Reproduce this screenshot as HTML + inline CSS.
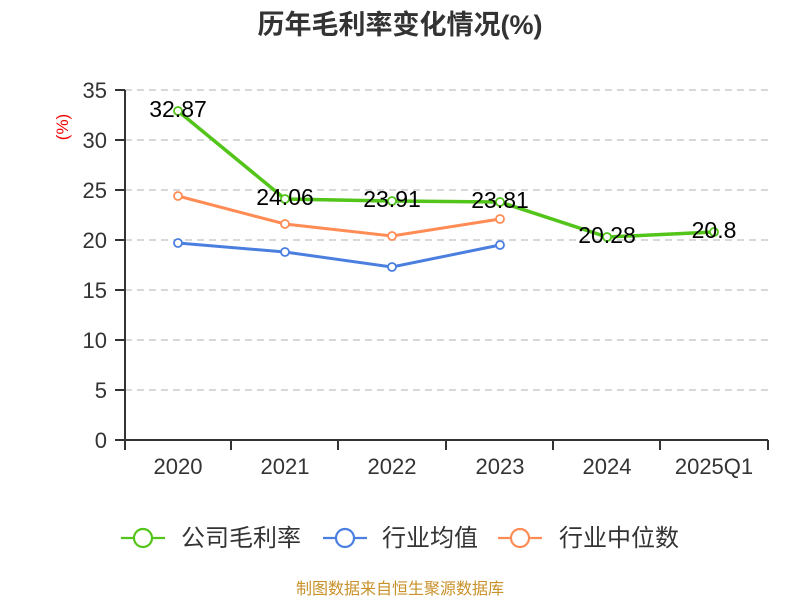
<!DOCTYPE html>
<html><head><meta charset="utf-8"><style>body{margin:0;background:#fff}svg{display:block}</style></head><body>
<svg width="800" height="600" xmlns="http://www.w3.org/2000/svg" font-family="Liberation Sans, Noto Sans CJK SC, sans-serif">
<text x="400" y="34" text-anchor="middle" font-size="27" font-weight="bold" fill="#333">历年毛利率变化情况(%)</text>
<text transform="translate(68,127) rotate(-90)" text-anchor="middle" font-size="17" fill="#e00">(%)</text>
<g stroke="#ccc" stroke-dasharray="7,5" stroke-width="1.5">
<line x1="125" x2="768" y1="90" y2="90"/><line x1="125" x2="768" y1="140" y2="140"/><line x1="125" x2="768" y1="190" y2="190"/><line x1="125" x2="768" y1="240" y2="240"/><line x1="125" x2="768" y1="290" y2="290"/><line x1="125" x2="768" y1="340" y2="340"/><line x1="125" x2="768" y1="390" y2="390"/>
</g>
<g stroke="#333" stroke-width="2">
<line x1="125" x2="125" y1="90" y2="441"/><line x1="124" x2="768" y1="440" y2="440"/>
<line x1="115" x2="125" y1="90" y2="90"/><line x1="115" x2="125" y1="140" y2="140"/><line x1="115" x2="125" y1="190" y2="190"/><line x1="115" x2="125" y1="240" y2="240"/><line x1="115" x2="125" y1="290" y2="290"/><line x1="115" x2="125" y1="340" y2="340"/><line x1="115" x2="125" y1="390" y2="390"/><line x1="115" x2="125" y1="440" y2="440"/>
<line x1="125" x2="125" y1="440" y2="450"/><line x1="231" x2="231" y1="440" y2="450"/><line x1="338" x2="338" y1="440" y2="450"/><line x1="446" x2="446" y1="440" y2="450"/><line x1="553" x2="553" y1="440" y2="450"/><line x1="660" x2="660" y1="440" y2="450"/><line x1="768" x2="768" y1="440" y2="450"/>
</g>
<g font-size="22" fill="#333" text-anchor="end">
<text x="107" y="98">35</text><text x="107" y="148">30</text><text x="107" y="198">25</text><text x="107" y="248">20</text><text x="107" y="298">15</text><text x="107" y="348">10</text><text x="107" y="398">5</text><text x="107" y="448">0</text>
</g>
<g font-size="22" fill="#333" text-anchor="middle">
<text x="178" y="474">2020</text><text x="285" y="474">2021</text><text x="392" y="474">2022</text><text x="500" y="474">2023</text><text x="607" y="474">2024</text><text x="714" y="474">2025Q1</text>
</g>
<g fill="#fff" stroke-width="3">
<polyline points="178,243 285,252 392,267 500,245" fill="none" stroke="#4a7fe0"/>
<polyline points="178,196 285,224 392,236 500,219" fill="none" stroke="#ff8c55"/>
<polyline points="178,111 285,199 392,201 500,202 607,237 714,232" fill="none" stroke="#52c41a" stroke-width="3.5"/>
<g stroke="#4a7fe0" stroke-width="1.8"><circle cx="178" cy="243" r="4"/><circle cx="285" cy="252" r="4"/><circle cx="392" cy="267" r="4"/><circle cx="500" cy="245" r="4"/></g>
<g stroke="#ff8c55" stroke-width="1.8"><circle cx="178" cy="196" r="4"/><circle cx="285" cy="224" r="4"/><circle cx="392" cy="236" r="4"/><circle cx="500" cy="219" r="4"/></g>
<g stroke="#52c41a" stroke-width="1.8"><circle cx="178" cy="111" r="4"/><circle cx="285" cy="199" r="4"/><circle cx="392" cy="201" r="4"/><circle cx="500" cy="202" r="4"/><circle cx="607" cy="237" r="4"/><circle cx="714" cy="232" r="4"/></g>
</g>
<g font-size="23" fill="#000" text-anchor="middle">
<text x="178" y="117">32.87</text><text x="285" y="205">24.06</text><text x="392" y="207">23.91</text><text x="500" y="208">23.81</text><text x="607" y="243">20.28</text><text x="714" y="238">20.8</text>
</g>
<g stroke-width="2.2" fill="#fff">
<line x1="121" x2="165" y1="538" y2="538" stroke="#52c41a"/><circle cx="143" cy="538" r="9" stroke="#52c41a"/>
<line x1="323" x2="367" y1="538" y2="538" stroke="#4a7fe0"/><circle cx="345" cy="538" r="9" stroke="#4a7fe0"/>
<line x1="498" x2="542" y1="538" y2="538" stroke="#ff8c55"/><circle cx="520" cy="538" r="9" stroke="#ff8c55"/>
</g>
<g font-size="24" fill="#333">
<text x="181" y="546">公司毛利率</text><text x="382" y="546">行业均值</text><text x="559" y="546">行业中位数</text>
</g>
<text x="400" y="594" text-anchor="middle" font-size="16" fill="#c8912a">制图数据来自恒生聚源数据库</text>
</svg>
</body></html>
